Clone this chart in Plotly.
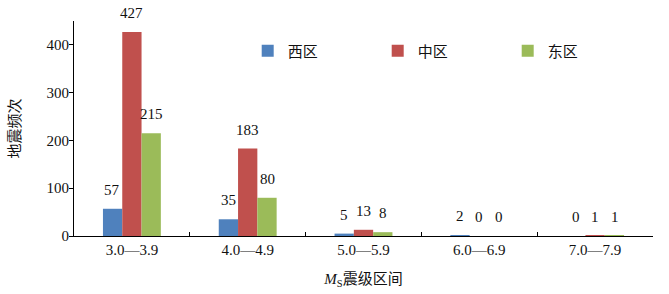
import plotly.graph_objects as go

categories = ["3.0—3.9", "4.0—4.9", "5.0—5.9", "6.0—6.9", "7.0—7.9"]
series_names = ["西区", "中区", "东区"]
west = [57, 35, 5, 2, 0]
middle = [427, 183, 13, 0, 1]
east = [215, 80, 8, 0, 1]
colors = ["#4F81BD", "#C0504D", "#9BBB59"]
y_ticks = [0, 100, 200, 300, 400]

FONT = "Liberation Serif, 'Times New Roman', 'Noto Sans CJK SC', serif"

fig = go.Figure()
all_series = [west, middle, east]
for name, vals, col in zip(series_names, all_series, colors):
    fig.add_trace(go.Bar(x=categories, y=vals, name=name, marker_color=col,
                         marker_line_width=0))

# data labels above bars
shifts = [-19.5, 0, 19.5]
for vals, xs in zip(all_series, shifts):
    for c, v in zip(categories, vals):
        fig.add_annotation(x=c, y=v, text=str(v), showarrow=False,
                           xshift=xs, yshift=19, yanchor="middle",
                           font=dict(family=FONT, size=15, color="#111"))

fig.update_layout(
    width=669, height=294,
    margin=dict(l=74, r=16, t=21, b=58),
    paper_bgcolor="white", plot_bgcolor="white",
    barmode="group", bargap=0.5, bargroupgap=0,
    font=dict(family=FONT, size=15, color="#111"),
    showlegend=True,
    legend=dict(orientation="h", x=0.30, y=0.86, xanchor="left", yanchor="middle",
                entrywidth=85, entrywidthmode="pixels", itemwidth=30,
                font=dict(family=FONT, size=15), bgcolor="rgba(0,0,0,0)",
                traceorder="normal"),
    xaxis=dict(showline=True, linecolor="black", linewidth=1,
               ticks="inside", tickson="boundaries", ticklen=4, tickcolor="black",
               showgrid=False, automargin=False,
               title=dict(text="<i>M</i><sub>S</sub>震级区间", standoff=16,
                          font=dict(family=FONT, size=15))),
    yaxis=dict(range=[0, 450], tickvals=y_ticks, showline=True, linecolor="black",
               linewidth=1, ticks="outside", ticklen=4, tickcolor="black",
               showgrid=False, zeroline=False, automargin=False,
               ticklabelstandoff=-3,
               title=dict(text="地震频次", standoff=22,
                          font=dict(family=FONT, size=15))),
)

fig.write_html("out.html", config={"displayModeBar": False},
               post_script="document.body.style.margin='0';document.body.style.padding='0';")
